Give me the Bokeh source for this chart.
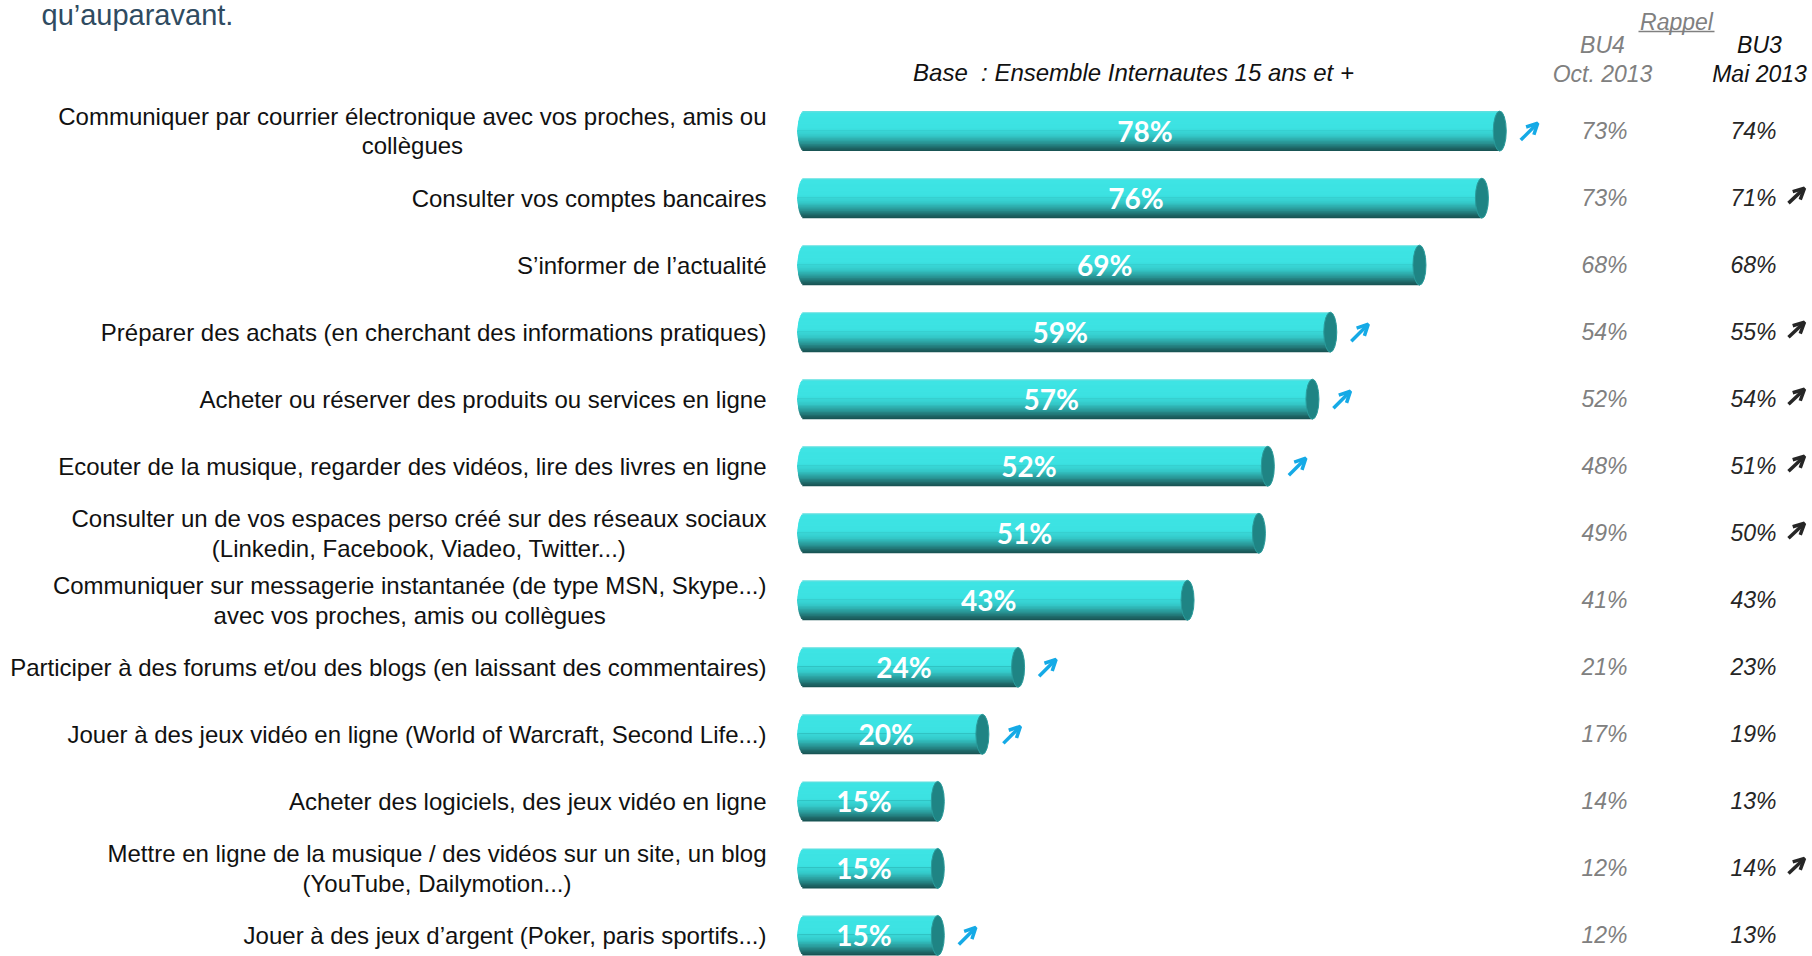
import numpy as np
from bokeh.plotting import figure
from bokeh.models import Range1d, ColumnDataSource, Arrow, OpenHead
from bokeh.embed import file_html
from bokeh.resources import INLINE
from bokeh.core.properties import value

# ---------------- data ----------------
labels = [
    "Communiquer par courrier électronique avec vos proches, amis ou\ncollègues",
    "Consulter vos comptes bancaires",
    "S’informer de l’actualité",
    "Préparer des achats (en cherchant des informations pratiques)",
    "Acheter ou réserver des produits ou services en ligne",
    "Ecouter de la musique, regarder des vidéos, lire des livres en ligne",
    "Consulter un de vos espaces perso créé sur des réseaux sociaux\n(Linkedin, Facebook, Viadeo, Twitter...)",
    "Communiquer sur messagerie instantanée (de type MSN, Skype...)\navec vos proches, amis ou collègues",
    "Participer à des forums et/ou des blogs (en laissant des commentaires)",
    "Jouer à des jeux vidéo en ligne (World of Warcraft, Second Life...)",
    "Acheter des logiciels, des jeux vidéo en ligne",
    "Mettre en ligne de la musique / des vidéos sur un site, un blog\n(YouTube, Dailymotion...)",
    "Jouer à des jeux d’argent (Poker, paris sportifs...)",
]
current = [78, 76, 69, 59, 57, 52, 51, 43, 24, 20, 15, 15, 15]
bu4_oct2013 = [73, 73, 68, 54, 52, 48, 49, 41, 21, 17, 14, 12, 12]
bu3_mai2013 = [74, 71, 68, 55, 54, 51, 50, 43, 23, 19, 13, 14, 13]
up_current = [1, 0, 0, 1, 1, 1, 0, 0, 1, 1, 0, 0, 1]
up_bu3 = [0, 1, 0, 1, 1, 1, 1, 0, 0, 0, 0, 1, 0]

title_text = "qu’auparavant."
base_text = "Base \u00a0: Ensemble Internautes 15 ans et +"
rappel_text = "Rappel"
bu4_header = "BU4\nOct. 2013"
bu3_header = "BU3\nMai 2013"

# ---------------- layout constants ----------------
W, H, M = 1812, 956, 0
PXX = 8.92          # px per percentage point
X0 = 803.5          # page x of 0 %
PXR = 67.03         # px per row
Y0 = 130.6          # page y of first row centre
BAR_PX = 40.0
CAP_PX = 13.0

def dx(px):
    return (px - X0) / PXX

def dy(py):
    return (py - Y0) / PXR

# Helvetica / Arial advance widths (per 1000 em) for label layout
_W = {}
for ch, w in zip("ABCDEFGHIJKLMNOPQRSTUVWXYZ",
                 [667, 667, 722, 722, 667, 611, 778, 722, 278, 500, 667, 556, 833,
                  722, 778, 667, 778, 722, 667, 611, 722, 667, 944, 667, 667, 611]):
    _W[ch] = w
for ch, w in zip("abcdefghijklmnopqrstuvwxyz",
                 [556, 556, 500, 556, 556, 278, 556, 556, 222, 222, 500, 222, 833,
                  556, 556, 556, 556, 333, 500, 278, 556, 500, 722, 500, 500, 500]):
    _W[ch] = w
_W.update({" ": 278, "(": 333, ")": 333, ",": 278, ".": 278, "/": 278, "-": 333,
           "’": 222, "'": 191, "é": 556, "è": 556, "à": 556, "ç": 500, "ê": 556,
           ":": 278, "+": 584, "%": 889})
for d in "0123456789":
    _W[d] = 556

def text_w(s, size):
    return sum(_W.get(c, 556) for c in s) * size / 1000.0

LABEL_SIZE = 24
LABEL_RIGHT = 766

n = len(labels)
rows = np.arange(n, dtype=float)
cur = np.array(current, dtype=float)

p = figure(width=W, height=H, output_backend="svg", toolbar_location=None,
           x_range=Range1d(dx(M), dx(M + W)), y_range=Range1d(dy(M + H), dy(M)),
           x_axis_location=None, y_axis_location=None, min_border=0,
           background_fill_color="white", border_fill_color="white")
p.grid.visible = False
p.outline_line_color = None

# ---------------- cylinder bars (gradient strips, painted with overlap) ----------------
stops = [(0.0, (110, 222, 222)), (0.05, (62, 228, 228)), (0.42, (60, 226, 226)),
         (0.62, (52, 200, 200)), (0.80, (40, 146, 146)), (0.93, (29, 100, 100)),
         (1.0, (24, 80, 80))]

def grad(f):
    for (f0, c0), (f1, c1) in zip(stops[:-1], stops[1:]):
        if f0 <= f <= f1:
            t = (f - f0) / (f1 - f0)
            c = [int(round(a + (b - a) * t)) for a, b in zip(c0, c1)]
            return "#%02x%02x%02x" % tuple(c)
    return "#%02x%02x%02x" % stops[-1][1]

NS = 28
hb = BAR_PX / PXR
half = NS // 2
order = list(range(half)) + list(range(NS - 1, half - 1, -1))
for k in order:
    f_top = k / NS
    f_bot = (k + 1) / NS
    f = (k + 0.5) / NS
    r = 2 * f - 1
    left = -(CAP_PX / 2 / PXX) * np.sqrt(max(0.0, 1 - r * r))
    if k < half:
        top, bot = f_top, 0.5 + 0.5 / NS
    else:
        top, bot = 0.5 - 0.5 / NS, f_bot
    p.hbar(y=rows - hb / 2 + (top + bot) / 2 * hb, left=left, right=cur,
           height=(bot - top) * hb, fill_color=grad(f), line_color=None)

# end caps
p.ellipse(x=cur, y=rows, width=CAP_PX, width_units="screen", height=hb,
          fill_color="#1f8484", line_color="#2a9c9c", line_width=1)

# values on bars
p.text(x=cur / 2, y=rows, text=[f"{v}%" for v in current], x_offset=-7,
       text_color="white", text_font=value("Lato"), text_font_style="bold",
       text_font_size="28px", text_align="center", text_baseline="middle")

# ---------------- category labels ----------------
single_y, single_t = [], []
multi = []
for i, lab in enumerate(labels):
    if "\n" in lab:
        wmax = max(text_w(s, LABEL_SIZE) for s in lab.split("\n"))
        multi.append((i, lab, wmax))
    else:
        single_y.append(i)
        single_t.append(lab)
p.text(x=[dx(LABEL_RIGHT)] * len(single_y), y=single_y, text=single_t,
       text_color="#111111", text_font=value("Liberation Sans"),
       text_font_size=f"{LABEL_SIZE}px", text_align="right", text_baseline="middle")
for i, lab, wmax in multi:
    p.text(x=[dx(LABEL_RIGHT - wmax / 2)], y=[i], text=[lab],
           text_color="#111111", text_font=value("Liberation Sans"),
           text_font_size=f"{LABEL_SIZE}px", text_align="center",
           text_baseline="middle", text_line_height=1.1)

# ---------------- increase arrows next to bars ----------------
idx = [i for i, u in enumerate(up_current) if u]
src_a = ColumnDataSource(dict(
    xs=[current[i] + 21.0 / PXX for i in idx],
    xe=[current[i] + 38.0 / PXX for i in idx],
    ys=[i + 9.0 / PXR for i in idx],
    ye=[i - 8.0 / PXR for i in idx]))
p.add_layout(Arrow(source=src_a, x_start="xs", y_start="ys", x_end="xe", y_end="ye",
                   line_color="#15aae6", line_width=3.5,
                   end=OpenHead(size=11, line_color="#15aae6", line_width=3.5)))

# ---------------- reminder columns ----------------
p.text(x=[dx(1604)] * n, y=rows, text=[f"{v}%" for v in bu4_oct2013],
       text_color="#808080", text_font=value("Liberation Sans"), text_font_style="italic",
       text_font_size="23px", text_align="center", text_baseline="middle")
p.text(x=[dx(1753)] * n, y=rows, text=[f"{v}%" for v in bu3_mai2013],
       text_color="#262626", text_font=value("Liberation Sans"), text_font_style="italic",
       text_font_size="23px", text_align="center", text_baseline="middle")

idx3 = [i for i, u in enumerate(up_bu3) if u]
src_b = ColumnDataSource(dict(
    xs=[dx(1788)] * len(idx3), xe=[dx(1804)] * len(idx3),
    ys=[i + 5.0 / PXR for i in idx3], ye=[i - 10.0 / PXR for i in idx3]))
p.add_layout(Arrow(source=src_b, x_start="xs", y_start="ys", x_end="xe", y_end="ye",
                   line_color="#262626", line_width=3.5,
                   end=OpenHead(size=11, line_color="#262626", line_width=3.5)))

# ---------------- headers ----------------
p.text(x=[dx(41)], y=[dy(14)], text=[title_text], text_color="#2f4b61",
       text_font=value("Liberation Sans"), text_font_size="29px",
       text_align="left", text_baseline="alphabetic")
p.text(x=[dx(1133)], y=[dy(72)], text=[base_text], text_color="#111111",
       text_font=value("Liberation Sans"), text_font_style="italic",
       text_font_size="24px", text_align="center", text_baseline="middle")
p.text(x=[dx(1676)], y=[dy(21)], text=[rappel_text], text_color="#808080",
       text_font=value("Liberation Sans"), text_font_style="italic",
       text_font_size="23px", text_align="center", text_baseline="middle")
p.segment(x0=[dx(1638)], x1=[dx(1714)], y0=[dy(31)], y1=[dy(31)],
          line_color="#808080", line_width=1.5)
p.text(x=[dx(1602)], y=[dy(59)], text=[bu4_header], text_color="#808080",
       text_font=value("Liberation Sans"), text_font_style="italic",
       text_font_size="23px", text_align="center", text_baseline="middle",
       text_line_height=1.1)
p.text(x=[dx(1759)], y=[dy(59)], text=[bu3_header], text_color="#111111",
       text_font=value("Liberation Sans"), text_font_style="italic",
       text_font_size="23px", text_align="center", text_baseline="middle",
       text_line_height=1.1)

open("out.html", "w").write(file_html(p, INLINE))
